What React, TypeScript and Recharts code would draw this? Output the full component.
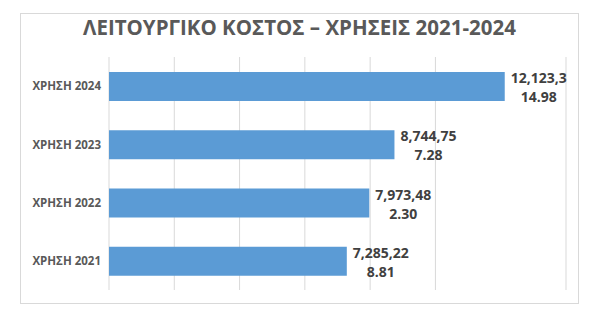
import React from "react";
import { BarChart, Bar, XAxis, YAxis, CartesianGrid, LabelList } from "recharts";

// top to bottom, as in the chart
const categories = ["ΧΡΗΣΗ 2024", "ΧΡΗΣΗ 2023", "ΧΡΗΣΗ 2022", "ΧΡΗΣΗ 2021"];
const costs = [12123314.98, 8744757.28, 7973482.3, 7285228.81];
const xTicks = [0, 2000000, 4000000, 6000000, 8000000, 10000000, 12000000, 14000000];

const chartTitle = "ΛΕΙΤΟΥΡΓΙΚΟ ΚΟΣΤΟΣ – ΧΡΗΣΕΙΣ 2021-2024";

const data = categories.map((name, i) => ({ name, value: costs[i] }));

const FONT = '"Open Sans", "DejaVu Sans", sans-serif';
const LABEL_FONT = `bold 14px ${FONT}`;

let measureCtx: CanvasRenderingContext2D | null = null;
function textWidth(s: string) {
  if (!measureCtx) measureCtx = document.createElement("canvas").getContext("2d");
  if (!measureCtx) return s.length * 7.5;
  measureCtx.font = LABEL_FONT;
  return measureCtx.measureText(s).width;
}

// excel wrapped the long number onto two lines
function splitLabel(v: number) {
  const s = v.toLocaleString("en-US", { minimumFractionDigits: 2, maximumFractionDigits: 2 });
  return [s.slice(0, 8), s.slice(8)];
}

const ValueLabel = (props: any) => {
  const x = Number(props.x);
  const y = Number(props.y);
  const width = Number(props.width);
  const height = Number(props.height);
  const [l1, l2] = splitLabel(Number(props.value));
  const cx = x + width + 6 + textWidth(l1) / 2;
  const cy = y + height / 2;
  return (
    <text fontFamily={FONT} fontWeight={700} fontSize={14} fill="#404040" textAnchor="middle">
      <tspan x={cx} y={cy - 3.5}>{l1}</tspan>
      <tspan x={cx} y={cy + 15.5}>{l2}</tspan>
    </text>
  );
};

const CategoryTick = (props: any) => (
  <text
    x={props.x}
    y={props.y}
    dy="0.36em"
    textAnchor="end"
    fontFamily={FONT}
    fontWeight={700}
    fontSize={11.5}
    fill="#595959"
  >
    {props.payload.value}
  </text>
);

export default function App() {
  return (
    <div style={{ paddingTop: 5, paddingLeft: 12 }}>
      <div
        style={{
          position: "relative",
          width: 557,
          height: 289,
          border: "1px solid #d9d9d9",
          background: "#fff",
        }}
      >
        <div
          style={{
            position: "absolute",
            top: 1,
            left: 0,
            width: "100%",
            textAlign: "center",
            fontFamily: FONT,
            fontWeight: 700,
            fontSize: 20.5,
            lineHeight: "24px",
            color: "#595959",
          }}
        >
          {chartTitle}
        </div>
        <BarChart
          width={557}
          height={289}
          data={data}
          layout="vertical"
          margin={{ top: 43, right: 12, bottom: 13, left: 0 }}
        >
          <CartesianGrid horizontal={false} stroke="#d9d9d9" />
          <XAxis type="number" domain={[0, 14000000]} ticks={xTicks} hide />
          <YAxis
            type="category"
            dataKey="name"
            width={88}
            axisLine={false}
            tickLine={false}
            tick={CategoryTick}
          />
          <Bar dataKey="value" fill="#5b9bd5" barSize={29} isAnimationActive={false}>
            <LabelList dataKey="value" content={ValueLabel} />
          </Bar>
        </BarChart>
      </div>
    </div>
  );
}
